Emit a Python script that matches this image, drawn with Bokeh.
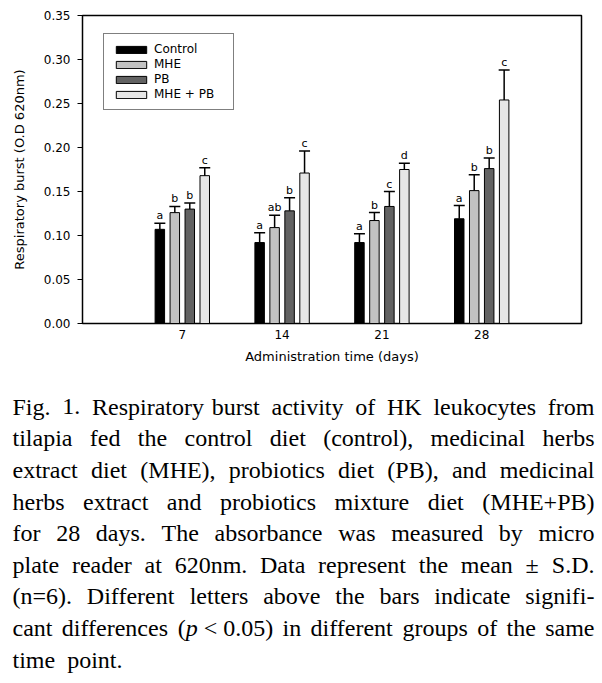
from bokeh.plotting import figure
from bokeh.models import Range1d, FixedTicker, Legend, LegendItem, NumeralTickFormatter
from bokeh.embed import file_html
from bokeh.resources import INLINE
from bokeh.core.properties import value

# ---------------- data ----------------
days = ["7", "14", "21", "28"]
groups = ["Control", "MHE", "PB", "MHE + PB"]
control = [0.107, 0.092, 0.092, 0.119]
control_sd = [0.007, 0.011, 0.010, 0.015]
mhe = [0.126, 0.109, 0.117, 0.151]
mhe_sd = [0.007, 0.014, 0.009, 0.018]
pb = [0.130, 0.128, 0.133, 0.176]
pb_sd = [0.007, 0.015, 0.017, 0.012]
mhe_pb = [0.168, 0.171, 0.175, 0.254]
mhe_pb_sd = [0.009, 0.025, 0.007, 0.034]
control_letters = ["a", "a", "a", "a"]
mhe_letters = ["b", "ab", "b", "b"]
pb_letters = ["b", "b", "c", "b"]
mhe_pb_letters = ["c", "c", "d", "c"]
y_ticks = [0.0, 0.05, 0.10, 0.15, 0.20, 0.25, 0.30, 0.35]

caption_lines = [
    "Fig. 1. Respiratory burst activity of HK leukocytes from",
    "tilapia fed the control diet (control), medicinal herbs",
    "extract diet (MHE), probiotics diet (PB), and medicinal",
    "herbs extract and probiotics mixture diet (MHE+PB)",
    "for 28 days. The absorbance was measured by micro",
    "plate reader at 620nm. Data represent the mean \u00b1 S.D.",
    "(n=6). Different letters above the bars indicate signifi-",
    "cant differences (*p*~<~0.05) in different groups of the same",
    "time point.",
]

means = [control, mhe, pb, mhe_pb]
sds = [control_sd, mhe_sd, pb_sd, mhe_pb_sd]
letters = [control_letters, mhe_letters, pb_letters, mhe_pb_letters]
fills = ["#000000", "#c2c2c2", "#626262", "#e6e6e6"]

SANS = "DejaVu Sans"
SERIF = "Liberation Serif"

# ---------------- chart ----------------
W, H = 602, 378
FL, FT, FR, FB = 82, 15, 581, 323   # frame edges in figure pixels

p = figure(width=W, height=H, x_range=Range1d(0, 5), y_range=Range1d(0, 0.35),
           output_backend="svg", toolbar_location=None, title=None,
           min_border_left=FL, min_border_right=W - FR, min_border_top=FT,
           min_border_bottom=H - FB)
p.background_fill_color = "white"
p.border_fill_color = "white"
p.outline_line_color = "black"
p.outline_line_width = 1.5
p.xgrid.visible = False
p.ygrid.visible = False

positions = [i + 1 for i in range(len(days))]
bar_w = 0.095
cap_half = 0.055
step = 0.15

renderers = []
for gi, g in enumerate(groups):
    off = (gi - 1.5) * step
    xs = [x + off for x in positions]
    tops = means[gi]
    ups = [m + s for m, s in zip(tops, sds[gi])]
    r = p.vbar(x=xs, top=tops, bottom=0, width=bar_w, fill_color=fills[gi],
               line_color="black", line_width=1)
    renderers.append(r)
    p.segment(x0=xs, y0=tops, x1=xs, y1=ups, line_color="black", line_width=1.5)
    p.segment(x0=[x - cap_half for x in xs], y0=ups, x1=[x + cap_half for x in xs], y1=ups,
              line_color="black", line_width=1.5)
    p.text(x=xs, y=ups, text=letters[gi], text_align="center", text_baseline="bottom",
           y_offset=-1, text_font=value(SANS), text_font_size="11px", text_color="#000000")

p.xaxis.ticker = FixedTicker(ticks=positions)
p.xaxis.major_label_overrides = {pos: d for pos, d in zip(positions, days)}
p.yaxis.ticker = FixedTicker(ticks=y_ticks)
p.yaxis.formatter = NumeralTickFormatter(format="0.00")
for ax in (p.xaxis[0], p.yaxis[0]):
    ax.axis_line_color = "black"
    ax.axis_line_width = 1
    ax.major_tick_line_color = "black"
    ax.minor_tick_line_color = None
    ax.major_label_text_font = SANS
    ax.major_label_text_font_size = "12px"
    ax.major_label_text_color = "black"
    ax.axis_label_text_font = SANS
    ax.axis_label_text_font_size = "13px"
    ax.axis_label_text_font_style = "normal"
    ax.axis_label_text_color = "black"
p.xaxis.major_tick_out = 0
p.xaxis.major_tick_in = 0
p.xaxis.major_label_standoff = 6
p.xaxis.axis_label = "Administration time (days)"
p.xaxis.axis_label_standoff = 7
p.yaxis.major_tick_out = 5
p.yaxis.major_tick_in = 0
p.yaxis.major_label_standoff = 7
p.yaxis.axis_label = "Respiratory burst (O.D 620nm)"
p.yaxis.axis_label_standoff = 14

legend = Legend(items=[LegendItem(label=g, renderers=[r]) for g, r in zip(groups, renderers)],
                location=(21, 213), margin=0, padding=8, spacing=1,
                glyph_width=38, glyph_height=9, label_height=14, label_width=71,
                label_standoff=4, label_text_font=SANS, label_text_font_size="12px",
                label_text_color="black", border_line_color="black", border_line_width=1,
                background_fill_color="white", background_fill_alpha=1)
p.add_layout(legend)

# ---------------- caption (justified lines) ----------------
TIMES = {' ': 250, '(': 333, ')': 333, '+': 564, ',': 250, '-': 333, '.': 250, '<': 564,
         '=': 564, '\u00b1': 564,
         'A': 722, 'B': 667, 'C': 667, 'D': 722, 'E': 611, 'F': 556, 'G': 722, 'H': 722,
         'I': 333, 'K': 722, 'M': 889, 'P': 556, 'S': 556, 'T': 611,
         'a': 444, 'b': 500, 'c': 444, 'd': 500, 'e': 444, 'f': 333, 'g': 500, 'h': 500,
         'i': 278, 'k': 500, 'l': 278, 'm': 778, 'n': 500, 'o': 500, 'p': 500, 'r': 333,
         's': 389, 't': 278, 'u': 500, 'v': 500, 'w': 722, 'x': 500, 'y': 500}
for ch in "0123456789":
    TIMES[ch] = 500

FS = 24
CW, CH = 602, 305
left_x, right_x = 12, 594
base0, lead = 28.3, 31.6


def seg_width(t):
    return sum(TIMES.get(ch, 500) for ch in t) * FS / 1000.0


def parse_token(tok):
    segs = []
    parts = tok.split("*")
    for k, part in enumerate(parts):
        style = "italic" if k % 2 == 1 else "normal"
        pieces = part.split("~")
        for j, piece in enumerate(pieces):
            if j > 0:
                segs.append(("~", "normal"))
            if piece:
                segs.append((piece, style))
    return segs


def token_width(segs):
    return sum(seg_width(" ") if t == "~" else seg_width(t) for t, _ in segs)


cx, cy, ct, cs = [], [], [], []
for li, line in enumerate(caption_lines):
    toks = [parse_token(t) for t in line.split(" ")]
    widths = [token_width(s) for s in toks]
    last = li == len(caption_lines) - 1
    if last or len(toks) == 1:
        gap = seg_width(" ") * 2
    else:
        gap = (right_x - left_x - sum(widths)) / (len(toks) - 1)
    x = left_x
    y = base0 + lead * li
    for segs, w in zip(toks, widths):
        xx = x
        for t, st in segs:
            if t == "~":
                xx += seg_width(" ")
                continue
            cx.append(xx)
            cy.append(y)
            ct.append(t)
            cs.append(st)
            xx += seg_width(t)
        x += w + gap

c = figure(width=CW, height=CH, x_range=Range1d(0, CW), y_range=Range1d(CH, 0),
           output_backend="svg", toolbar_location=None, title=None, x_axis_location=None,
           y_axis_location=None, min_border=0, min_border_left=0, min_border_right=0,
           min_border_top=0, min_border_bottom=0)
c.outline_line_color = None
c.xgrid.visible = False
c.ygrid.visible = False
c.background_fill_color = "white"
c.border_fill_color = "white"
c.text(x=cx, y=cy, text=ct, text_font_style=cs, text_align="left",
       text_baseline="alphabetic", text_font=value(SERIF), text_font_size=f"{FS}px",
       text_color="black")

open("out.html", "w").write(file_html([p, c], INLINE))
